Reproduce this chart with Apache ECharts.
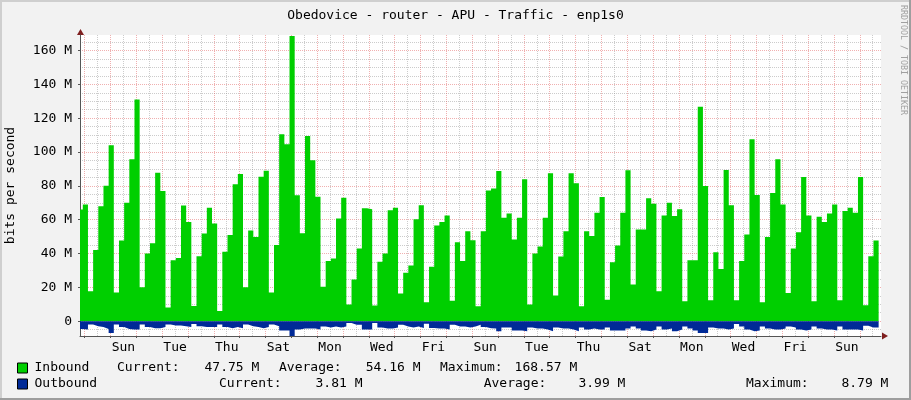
<!DOCTYPE html>
<html>
<head>
<meta charset="utf-8">
<script src="https://cdn.jsdelivr.net/npm/echarts/dist/echarts.min.js"></script>
<style>
html,body{margin:0;padding:0;background:#F2F2F2;}
#chart{width:911px;height:400px;}
</style>
</head>
<body>
<div id="chart"></div>
<script>
// ---- data (M bits per second), one value per 4.8 h consolidation step ----
const INBOUND = [
  66,69,17.7,42,68,80,104,17,47.7,70,95.7,131,20,40,46,87.8,77,8,36,37.4,
  68.4,58.6,9,38.4,51.8,67,57.8,6,41,51,81,87,20,53.6,49.7,85.4,89,17,45,
  110.5,104.6,168.57,74.4,51.9,109.5,95.1,73.6,20.4,35.5,37,60.7,73,9.8,24.6,43,66.7,66.1,9.2,35.1,40,65.5,
  67.1,16.3,28.6,32.9,60.2,68.5,11.2,32.1,56.6,58.6,62.5,12.1,46.7,35.5,53.2,47.9,8.8,53.2,77.3,
  78.5,88.8,61.1,63.7,48.3,61.1,83.9,9.8,40,44.1,61.1,87.4,15.1,38.2,53.2,87.4,81.5,8.8,53.2,
  50.3,64.1,73.4,12.7,34.8,44.7,64.1,89.2,21.6,54.2,54.2,72.6,69.4,17.7,62.5,70,62.1,66.1,11.8,36,
  36,126.7,79.9,12.3,40.8,30.9,89.4,68.6,12.3,35.5,51.3,107.6,74.6,11.2,49.7,75.8,95.7,69,16.7,
  43,52.6,85.2,62.5,11.8,61.7,58.6,63.7,69,12.3,65.1,67.1,64.1,85.2,9.4,38.4,47.75
];
const OUTBOUND = [
  4.6,5.0,2.0,3.0,3.5,4.6,7.0,2.0,3.5,4.6,5.0,5.0,2.0,3.5,4.2,4.2,3.5,2.0,2.6,2.6,
  3.0,3.5,1.7,3.0,3.5,3.5,3.5,2.0,3.5,4.2,3.5,4.2,2.0,3.0,3.5,4.2,3.5,2.0,3.0,
  5.5,5.5,8.79,5.0,4.4,4.4,4.4,5.0,3.1,3.7,3.1,3.7,3.1,1.1,2.1,2.1,5.0,5.0,1.1,3.7,4.4,4.4,
  3.7,2.1,3.1,3.7,3.1,4.0,1.5,4.0,4.4,4.4,5.0,2.1,3.1,3.1,3.7,3.1,2.1,3.5,4.2,
  4.4,6.0,3.7,3.7,5.6,5.6,6.0,3.7,4.4,4.4,5.0,6.0,3.7,4.4,4.4,5.0,6.0,3.7,5.0,
  4.4,5.0,5.0,3.7,5.6,5.6,5.6,4.4,3.1,4.4,5.6,6.0,5.0,3.1,5.0,4.4,6.0,5.0,3.1,4.4,
  5.6,7.0,7.0,3.7,4.4,4.4,5.0,4.4,1.7,3.1,5.0,6.0,5.6,3.1,4.4,5.0,5.0,4.4,3.1,
  3.7,5.0,5.6,5.0,3.1,4.4,5.0,5.0,5.6,3.1,5.0,5.0,5.0,5.6,2.7,3.7,3.81
];
const X_LABELS = ['Sun','Tue','Thu','Sat','Mon','Wed','Fri','Sun','Tue','Thu','Sat','Mon','Wed','Fri','Sun'];
const Y_MAJOR = [0,20,40,60,80,100,120,140,160];
const Y_MINOR = [-5,5,10,15,25,30,35,45,50,55,65,70,75,85,90,95,105,110,115,125,130,135,145,150,155,165];
const STAT_NAMES = ['Current:','Average:','Maximum:'];
const IN_STATS = [47.75, 54.16, 168.57];
const OUT_STATS = [3.81, 3.99, 8.79];

// ---- time frame (hours from the left edge of the graph) ----
const SPAN_H = 744;          // 31 days
const FIRST_STEP_H = -2.2;   // start of first (partial) step
const STEP_H = 4.8;
const FIRST_MIDNIGHT_H = 4.3;

const midnights = [], noons = [], labelPos = [];
for (let d = 0; FIRST_MIDNIGHT_H + 24*d <= SPAN_H; d++) midnights.push(FIRST_MIDNIGHT_H + 24*d);
for (let d = 0; FIRST_MIDNIGHT_H + 12 + 24*d <= SPAN_H; d++) noons.push(FIRST_MIDNIGHT_H + 12 + 24*d);
X_LABELS.forEach((l,i) => labelPos.push(FIRST_MIDNIGHT_H + 36 + 48*i));

function steps(vals, sign){
  const pts = vals.map((v,i) => [FIRST_STEP_H + STEP_H*i, sign*v]);
  pts.push([FIRST_STEP_H + STEP_H*vals.length, sign*vals[vals.length-1]]);
  return pts;
}

const FONT = '"DejaVu Sans Mono", monospace';
const MAJ = 'rgba(222,79,79,0.45)';
const MIN = 'rgba(143,143,143,0.45)';
const AXIS = '#555';
const fmt = v => v.toFixed(2) + ' M';

const chart = echarts.init(document.getElementById('chart'), null, {renderer:'canvas'});

const statText = (t, x, y) => ({type:'text', x:x, y:y, silent:true,
  style:{text:t, font:'13px ' + FONT, fill:'#000', verticalAlign:'middle'}});

chart.setOption({
  animation:false,
  backgroundColor:'#F2F2F2',
  title:{text:'Obedovice - router - APU - Traffic - enp1s0', left:'center', top:4,
    textStyle:{fontFamily:FONT, fontSize:13, fontWeight:'normal', color:'#000'}},
  grid:{left:80, right:30, top:35, bottom:64, show:true, backgroundColor:'#FFFFFF', borderWidth:0,
    containLabel:false, outerBoundsMode:'none'},
  legend:{orient:'vertical', left:17, top:360, padding:0, itemGap:0, itemWidth:10, itemHeight:10, icon:'rect',
    selectedMode:false,
    itemStyle:{borderColor:'#000', borderWidth:1},
    textStyle:{fontFamily:FONT, fontSize:13, color:'#000', lineHeight:16, padding:[0,0,0,2]},
    data:['Inbound','Outbound']},
  xAxis:[
    {type:'value', min:0, max:SPAN_H, position:'bottom',
      axisLine:{show:true, onZero:false, lineStyle:{color:AXIS}},
      axisTick:{show:true, length:2, customValues:midnights, lineStyle:{color:AXIS}},
      axisLabel:{customValues:labelPos, margin:5, fontFamily:FONT, fontSize:13, color:'#000',
        formatter:v => X_LABELS[Math.round((v - labelPos[0]) / 48)]},
      splitLine:{show:true, lineStyle:{color:MAJ, type:[1,1], width:1}}},
    {type:'value', min:0, max:SPAN_H, position:'bottom',
      axisLine:{show:false}, axisTick:{show:false, customValues:noons}, axisLabel:{show:false},
      splitLine:{show:true, lineStyle:{color:MIN, type:[1,1], width:1}}}
  ],
  yAxis:[
    {type:'value', min:-8.79, max:169.2, position:'left',
      name:'bits per second', nameLocation:'middle', nameGap:63, nameRotate:90,
      nameTextStyle:{fontFamily:FONT, fontSize:13, color:'#000'},
      axisLine:{show:true, onZero:false, lineStyle:{color:AXIS}},
      axisTick:{show:true, length:2, customValues:Y_MAJOR, lineStyle:{color:AXIS}},
      axisLabel:{customValues:Y_MAJOR, margin:8, fontFamily:FONT, fontSize:13, color:'#000',
        formatter:v => v === 0 ? '0' : v + ' M'},
      splitLine:{show:true, lineStyle:{color:MAJ, type:[1,1], width:1}}},
    {type:'value', min:-8.79, max:169.2, position:'left',
      axisLine:{show:false}, axisTick:{show:false, customValues:Y_MINOR}, axisLabel:{show:false},
      splitLine:{show:true, lineStyle:{color:MIN, type:[1,1], width:1}}}
  ],
  series:[
    {name:'Inbound', type:'line', step:'end', xAxisIndex:0, yAxisIndex:0, data:steps(INBOUND, 1),
      symbol:'none', showSymbol:false, silent:true, z:3,
      itemStyle:{color:'#00CF00'}, lineStyle:{width:0, color:'#00CF00'},
      areaStyle:{color:'#00CF00', opacity:1}},
    {name:'Outbound', type:'line', step:'end', xAxisIndex:0, yAxisIndex:0, data:steps(OUTBOUND, -1),
      symbol:'none', showSymbol:false, silent:true, z:3,
      itemStyle:{color:'#002A97'}, lineStyle:{width:0, color:'#002A97'},
      areaStyle:{color:'#002A97', opacity:1}}
  ],
  graphic:[
    {type:'rect', shape:{x:0,y:0,width:911,height:2}, style:{fill:'#CFCFCF'}, silent:true},
    {type:'rect', shape:{x:0,y:0,width:2,height:400}, style:{fill:'#CFCFCF'}, silent:true},
    {type:'rect', shape:{x:0,y:398,width:911,height:2}, style:{fill:'#9E9E9E'}, silent:true},
    {type:'rect', shape:{x:909,y:0,width:2,height:400}, style:{fill:'#9E9E9E'}, silent:true},
    {type:'polygon', shape:{points:[[77,35],[80.5,29],[84,35]]}, style:{fill:'#7F1F1F'}, silent:true},
    {type:'polygon', shape:{points:[[882,332.5],[888,336],[882,339.5]]}, style:{fill:'#7F1F1F'}, silent:true},
    {type:'text', x:903, y:60, rotation:-Math.PI/2, silent:true,
      style:{text:'RRDTOOL / TOBI OETIKER', font:'8.3px ' + FONT, fill:'#A0A0A0', align:'center', verticalAlign:'middle'}},
    statText(STAT_NAMES[0], 117, 368), statText(fmt(IN_STATS[0]), 204.5, 368),
    statText(STAT_NAMES[1], 279, 368), statText(fmt(IN_STATS[1]), 365.7, 368),
    statText(STAT_NAMES[2], 440, 368), statText(fmt(IN_STATS[2]), 514.6, 368),
    statText(STAT_NAMES[0], 219, 384), statText(fmt(OUT_STATS[0]), 315.5, 384),
    statText(STAT_NAMES[1], 483.7, 384), statText(fmt(OUT_STATS[1]), 578.4, 384),
    statText(STAT_NAMES[2], 746, 384), statText(fmt(OUT_STATS[2]), 841.4, 384)
  ]
});
</script>
</body>
</html>
